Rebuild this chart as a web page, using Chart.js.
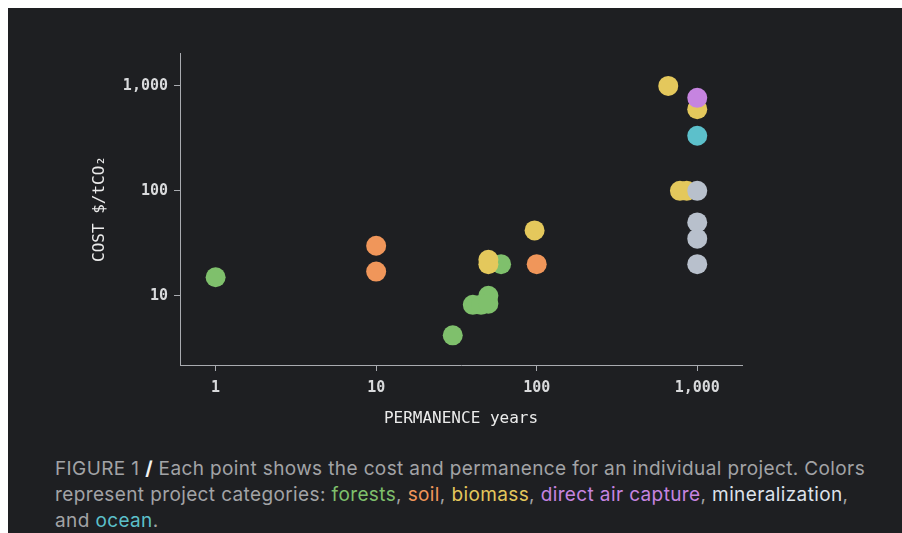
<!DOCTYPE html>
<html>
<head>
<meta charset="utf-8">
<script src="https://cdn.jsdelivr.net/npm/chart.js@4.4.1/dist/chart.umd.min.js"></script>
<style>
  html, body { margin: 0; padding: 0; background: #fff; }
  .panel { position: absolute; left: 8px; top: 8px; width: 894px; height: 525px; background: #1e1f22; overflow: hidden; }
  .chart-box { position: absolute; left: 0; top: 0; width: 894px; height: 440px; }
  .caption { position: absolute; left: 47px; top: 448px; font-family: Inter, "Noto Sans", sans-serif; font-size: 19px; line-height: 26px; color: #a2a3a6; letter-spacing: 0.38px; white-space: nowrap; }
  .caption b { color: #f2f2f2; }
</style>
</head>
<body>
<div class="panel">
  <div class="chart-box"><canvas id="scatter"></canvas></div>
  <div class="caption">
    FIGURE 1 <b>/</b> Each point shows the cost and permanence for an individual project. Colors<br>
    represent project categories: <span style="color:#7fc06c">forests</span>, <span style="color:#f0965a">soil</span>, <span style="color:#e4c85c">biomass</span>, <span style="color:#c684e0">direct air capture</span>, <span style="color:#dde2ea">mineralization</span>,<br>
    and <span style="color:#5cc0cb">ocean</span>.
  </div>
</div>
<script>
// permanence (years) and cost ($/tCO2) for each category
const forestsX = [1, 30, 40, 45, 50, 50, 60];
const forestsY = [15, 4.2, 8.2, 8.2, 10, 8.4, 20];
const soilX = [10, 10, 100];
const soilY = [30, 17, 20];
const biomassX = [50, 50, 97, 660, 1000, 780, 860];
const biomassY = [22, 20, 42, 1000, 600, 100, 100];
const dacX = [1000];
const dacY = [770];
const mineralX = [1000, 1000, 1000, 1000];
const mineralY = [100, 50, 35, 20];
const oceanX = [1000];
const oceanY = [335];

const xTicks = [1, 10, 100, 1000];
const yTicks = [10, 100, 1000];

const toPoints = (xs, ys) => xs.map((x, i) => ({ x: x, y: ys[i] }));

const series = [
  { label: 'forests', data: toPoints(forestsX, forestsY), color: '#7fc06c' },
  { label: 'soil', data: toPoints(soilX, soilY), color: '#f0965a' },
  { label: 'biomass', data: toPoints(biomassX, biomassY), color: '#e4c85c' },
  { label: 'direct air capture', data: toPoints(dacX, dacY), color: '#c684e0' },
  { label: 'mineralization', data: toPoints(mineralX, mineralY), color: '#b8c0cc' },
  { label: 'ocean', data: toPoints(oceanX, oceanY), color: '#5cc0cb' },
];

const monoFont = { family: '"DejaVu Sans Mono", monospace', size: 15, weight: 'bold' };
const axisColor = '#a9abb0';

const ctx = document.getElementById('scatter').getContext('2d');
new Chart(ctx, {
  type: 'scatter',
  data: {
    datasets: series.map((s, i) => ({
      label: s.label,
      data: s.data,
      backgroundColor: s.color,
      borderWidth: 0,
      pointRadius: 10,
      pointHoverRadius: 10,
      order: series.length - i,
    })),
  },
  options: {
    responsive: true,
    maintainAspectRatio: false,
    animation: false,
    layout: { padding: { left: 0, top: 45, right: 160, bottom: 0 } },
    plugins: { legend: { display: false }, tooltip: { enabled: false } },
    scales: {
      x: {
        type: 'logarithmic',
        min: 0.6,
        max: 1900,
        afterBuildTicks: (axis) => { axis.ticks = xTicks.map(v => ({ value: v })); },
        afterFit: (axis) => { axis.height = 83; },
        ticks: {
          color: '#d9dadc',
          font: monoFont,
          padding: 8,
          maxRotation: 0,
          callback: (v) => v.toLocaleString('en-US'),
        },
        grid: { drawOnChartArea: false, color: axisColor, tickLength: 6 },
        border: { color: axisColor, width: 1 },
        title: {
          display: true,
          text: 'PERMANENCE years',
          color: '#ececec',
          font: { family: '"DejaVu Sans Mono", monospace', size: 16 },
          padding: { top: 0, bottom: 20 },
        },
      },
      y: {
        type: 'logarithmic',
        min: 2.19,
        max: 2058,
        afterBuildTicks: (axis) => { axis.ticks = yTicks.map(v => ({ value: v })); },
        afterFit: (axis) => { axis.width = 172; },
        ticks: {
          color: '#d9dadc',
          font: monoFont,
          padding: 6,
          callback: (v) => v.toLocaleString('en-US'),
        },
        grid: { drawOnChartArea: false, color: axisColor, tickLength: 6 },
        border: { color: axisColor, width: 1 },
        title: {
          display: true,
          text: 'COST $/tCO₂',
          color: '#ececec',
          font: { family: '"DejaVu Sans Mono", monospace', size: 16 },
          padding: { top: 82, bottom: 0 },
        },
      },
    },
  },
});
</script>
</body>
</html>
